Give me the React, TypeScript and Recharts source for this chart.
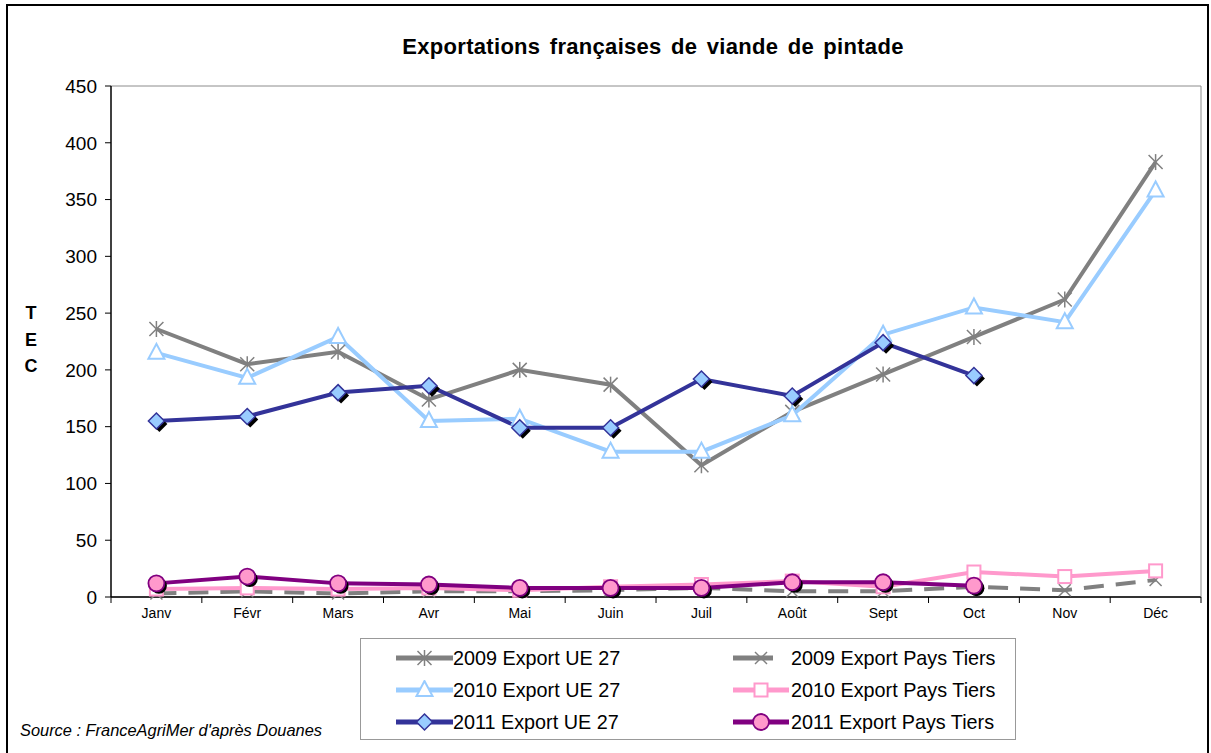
import React from "react";
import { CartesianGrid, Legend, Line, LineChart, XAxis, YAxis } from "recharts";

const months = ["Janv", "Févr", "Mars", "Avr", "Mai", "Juin", "Juil", "Août", "Sept", "Oct", "Nov", "Déc"];

const ue2009 = [236, 205, 216, 174, 200, 187, 116, 163, 196, 229, 262, 383];
const pt2009 = [3, 5, 3, 5, 5, 6, 8, 5, 5, 9, 6, 15];
const ue2010 = [215, 193, 229, 155, 157, 128, 128, 160, 231, 255, 242, 358];
const pt2010 = [7, 8, 7, 8, 6, 9, 11, 14, 9, 22, 18, 23];
const ue2011 = [155, 159, 180, 186, 149, 149, 192, 177, 224, 195, null, null];
const pt2011 = [12, 18, 12, 11, 8, 8, 8, 13, 13, 10, null, null];

const yTicks = [0, 50, 100, 150, 200, 250, 300, 350, 400, 450];

const data = months.map((m, i) => ({
  month: m,
  ue2009: ue2009[i],
  pt2009: pt2009[i],
  ue2010: ue2010[i],
  pt2010: pt2010[i],
  ue2011: ue2011[i],
  pt2011: pt2011[i],
}));

const FONT = "'Liberation Sans', Arial, sans-serif";
const HALF_BAND = 45.4;

type DotProps = { cx?: number; cy?: number; index?: number };

const Star = ({ cx, cy, color }: DotProps & { color: string }) => {
  if (cx == null || cy == null) return <g />;
  const r = 7;
  return (
    <g stroke={color} strokeWidth={1.5}>
      <line x1={cx - r} y1={cy - r} x2={cx + r} y2={cy + r} />
      <line x1={cx - r} y1={cy + r} x2={cx + r} y2={cy - r} />
      <line x1={cx} y1={cy - r - 1} x2={cx} y2={cy + r + 1} />
    </g>
  );
};

const Cross = ({ cx, cy, color }: DotProps & { color: string }) => {
  if (cx == null || cy == null) return <g />;
  const r = 6;
  return (
    <g stroke={color} strokeWidth={1.5}>
      <line x1={cx - r} y1={cy - r} x2={cx + r} y2={cy + r} />
      <line x1={cx - r} y1={cy + r} x2={cx + r} y2={cy - r} />
    </g>
  );
};

const Triangle = ({ cx, cy }: DotProps) => {
  if (cx == null || cy == null) return <g />;
  return (
    <polygon
      points={`${cx},${cy - 9} ${cx - 8},${cy + 6} ${cx + 8},${cy + 6}`}
      fill="#fff"
      stroke="#99ccff"
      strokeWidth={2}
    />
  );
};

const Square = ({ cx, cy }: DotProps) => {
  if (cx == null || cy == null) return <g />;
  return <rect x={cx - 6.5} y={cy - 6.5} width={13} height={13} fill="#fff" stroke="#ff99cc" strokeWidth={2} />;
};

const Diamond = ({ cx, cy, shadow = true }: DotProps & { shadow?: boolean }) => {
  if (cx == null || cy == null) return <g />;
  const r = 8;
  const pts = (x: number, y: number) => `${x},${y - r} ${x + r},${y} ${x},${y + r} ${x - r},${y}`;
  return (
    <g>
      {shadow && <polygon points={pts(cx + 3, cy + 3)} fill="#000" />}
      <polygon points={pts(cx, cy)} fill="#99ccff" stroke="#333399" strokeWidth={1.5} />
    </g>
  );
};

const Circle = ({ cx, cy, shadow = true }: DotProps & { shadow?: boolean }) => {
  if (cx == null || cy == null) return <g />;
  return (
    <g>
      {shadow && <circle cx={cx + 2.5} cy={cy + 2.5} r={8} fill="#000" />}
      <circle cx={cx} cy={cy} r={8} fill="#ff99cc" stroke="#800080" strokeWidth={1.8} />
    </g>
  );
};

const series = [
  { key: "ue2009", name: "2009 Export UE 27", color: "#808080", dash: undefined, marker: (p: DotProps) => <Star {...p} color="#808080" /> },
  { key: "pt2009", name: "2009 Export Pays Tiers", color: "#808080", dash: "20 12", marker: (p: DotProps) => <Cross {...p} color="#808080" /> },
  { key: "ue2010", name: "2010 Export UE 27", color: "#99ccff", dash: undefined, marker: (p: DotProps) => <Triangle {...p} /> },
  { key: "pt2010", name: "2010 Export Pays Tiers", color: "#ff99cc", dash: undefined, marker: (p: DotProps) => <Square {...p} /> },
  { key: "ue2011", name: "2011 Export UE 27", color: "#333399", dash: undefined, marker: (p: DotProps) => <Diamond {...p} /> },
  { key: "pt2011", name: "2011 Export Pays Tiers", color: "#800080", dash: undefined, marker: (p: DotProps) => <Circle {...p} /> },
];

const MonthTick = (props: any) => {
  const { x, y, payload, index } = props;
  return (
    <g>
      <line x1={x - HALF_BAND} y1={y} x2={x - HALF_BAND} y2={y + 6} stroke="#000" />
      {index === months.length - 1 && <line x1={x + HALF_BAND} y1={y} x2={x + HALF_BAND} y2={y + 6} stroke="#000" />}
      <text x={x} y={y + 21} textAnchor="middle" fontSize={14} fontFamily={FONT} fill="#000">
        {payload.value}
      </text>
    </g>
  );
};

const LegendBox = () => {
  const rows = [
    [series[0], series[1]],
    [series[2], series[3]],
    [series[4], series[5]],
  ];
  const sample = (s: (typeof series)[number], w: number) => (
    <svg width={w} height={20} style={{ display: "block" }}>
      <line x1={0} y1={10} x2={w} y2={10} stroke={s.color} strokeWidth={5} strokeDasharray={s.dash ? "40 200" : undefined} />
      {React.cloneElement(s.marker({ cx: w / 2, cy: 10 }) as React.ReactElement<any>, { shadow: false })}
    </svg>
  );
  return (
    <div
      style={{
        width: 656,
        height: 102,
        border: "1.5px solid #999",
        boxSizing: "border-box",
        background: "#fff",
        fontFamily: FONT,
        fontSize: 19.8,
        color: "#000",
        padding: "3px 0 0 0",
      }}
    >
      {rows.map((r, i) => (
        <div key={i} style={{ display: "flex", alignItems: "center", height: 32 }}>
          <div style={{ marginLeft: 35 }}>{sample(r[0], 57)}</div>
          <div style={{ width: 280 }}>{r[0].name}</div>
          <div>{sample(r[1], 56)}</div>
          <div style={{ marginLeft: 2 }}>{r[1].name}</div>
        </div>
      ))}
    </div>
  );
};

export default function App() {
  return (
    <div style={{ position: "absolute", left: 0, top: 0, width: 1211, height: 753, background: "#fff", overflow: "hidden" }}>
      <div
        style={{
          position: "absolute",
          left: 6,
          top: 4,
          width: 1203,
          height: 760,
          border: "2px solid #000",
          boxSizing: "border-box",
        }}
      />
      <div
        style={{
          position: "absolute",
          left: 0,
          width: 1306,
          top: 34,
          textAlign: "center",
          fontFamily: FONT,
          fontWeight: "bold",
          fontSize: 22,
          letterSpacing: 0.3,
          wordSpacing: 3,
        }}
      >
        Exportations françaises de viande de pintade
      </div>
      <div
        style={{
          position: "absolute",
          left: 22,
          top: 300,
          width: 18,
          textAlign: "center",
          fontFamily: FONT,
          fontWeight: "bold",
          fontSize: 18,
          lineHeight: "26.5px",
        }}
      >
        T<br />E<br />C
      </div>
      <div
        style={{
          position: "absolute",
          left: 20,
          top: 721,
          fontFamily: FONT,
          fontStyle: "italic",
          fontSize: 16.4,
        }}
      >
        Source : FranceAgriMer d'après Douanes
      </div>
      <div style={{ position: "absolute", left: 0, top: 0 }}>
        <LineChart width={1211} height={753} data={data} margin={{ top: 86, right: 9, bottom: 116, left: 41 }}>
          <CartesianGrid vertical={false} stroke="#8c8c8c" strokeWidth={1} />
          <XAxis
            dataKey="month"
            padding={{ left: HALF_BAND, right: HALF_BAND }}
            tickSize={0}
            tickMargin={0}
            tick={<MonthTick />}
            axisLine={{ stroke: "#000", strokeWidth: 1.5 }}
            tickLine={false}
            height={40}
            interval={0}
          />
          <YAxis
            yAxisId="left"
            domain={[0, 450]}
            ticks={yTicks}
            width={70}
            tick={{ fill: "#000", fontSize: 19, fontFamily: FONT }}
            tickLine={{ stroke: "#000" }}
            axisLine={{ stroke: "#000", strokeWidth: 1.5 }}
            tickSize={6}
            tickMargin={8}
            interval={0}
          />
          <YAxis
            yAxisId="right"
            orientation="right"
            domain={[0, 450]}
            ticks={yTicks}
            width={1}
            tick={false}
            tickLine={false}
            axisLine={{ stroke: "#8c8c8c", strokeWidth: 1 }}
          />
          {series.map((s) => (
            <Line
              key={s.key}
              yAxisId="left"
              type="linear"
              dataKey={s.key}
              name={s.name}
              stroke={s.color}
              strokeWidth={4}
              strokeDasharray={s.dash}
              dot={(p: any) => <g key={`${s.key}-${p.index}`}>{s.marker(p)}</g>}
              activeDot={false}
              isAnimationActive={false}
              connectNulls={false}
            />
          ))}
          <Legend
            layout="horizontal"
            verticalAlign="middle"
            align="center"
            wrapperStyle={{ left: 360, top: 638, width: 656, height: 102 }}
            content={<LegendBox />}
          />
        </LineChart>
      </div>
    </div>
  );
}
